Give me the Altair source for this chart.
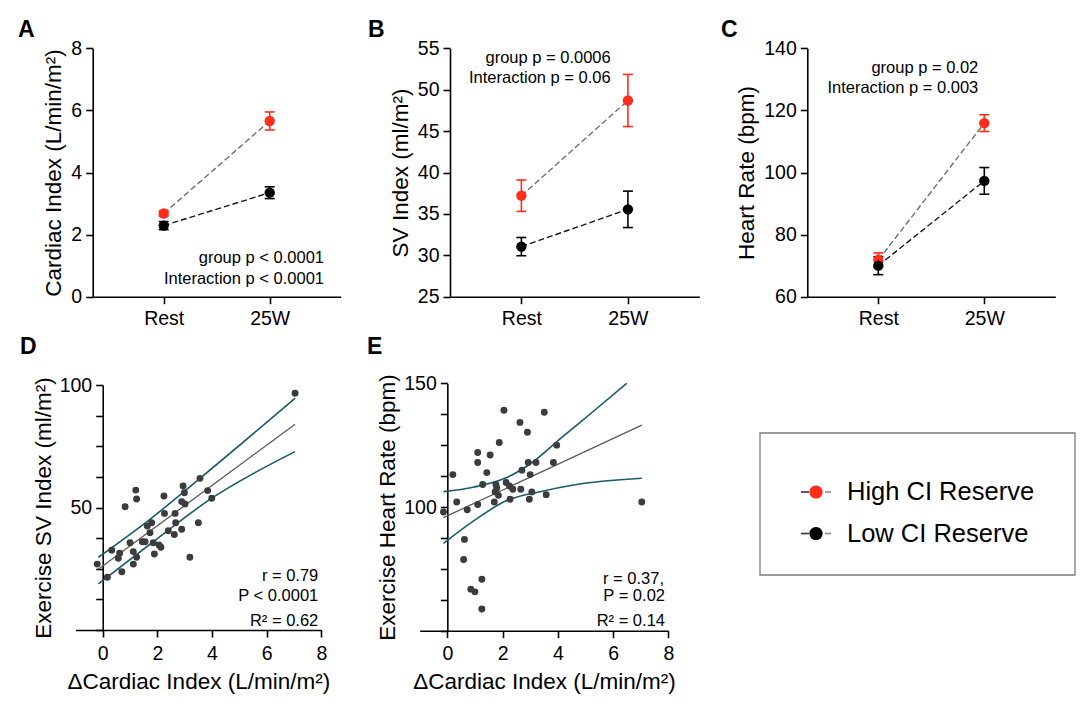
import altair as alt
import pandas as pd

FONT = "Liberation Sans"
W, H = 1080, 708

# ---------------- data ----------------
groups = ["High CI Reserve", "Low CI Reserve"]
point_colors = ["#ff2d1a", "#000000"]
line_colors = ["#707070", "#161616"]
conditions = ["Rest", "25W"]

# A: Cardiac index (mean, SEM)
ci_high_mean = [2.68, 5.66]
ci_high_sem = [0.08, 0.29]
ci_low_mean = [2.29, 3.35]
ci_low_sem = [0.13, 0.19]
# B: SV index
sv_high_mean = [37.2, 48.7]
sv_high_sem = [1.9, 3.15]
sv_low_mean = [31.05, 35.55]
sv_low_sem = [1.1, 2.2]
# C: Heart rate
hr_high_mean = [71.8, 115.9]
hr_high_sem = [2.3, 2.7]
hr_low_mean = [70.0, 97.3]
hr_low_sem = [2.9, 4.3]

# D: delta CI vs exercise SV index
d_delta_ci = [-0.20, 0.17, 0.33, 0.57, 0.62, 0.70, 0.82, 1.00, 1.12, 1.12, 1.21, 1.24, 1.24,
              1.45, 1.55, 1.63, 1.73, 1.79, 1.85, 1.89, 2.06, 2.13, 2.24, 2.26, 2.40, 2.62,
              2.65, 2.67, 2.89, 2.89, 2.94, 2.99, 3.01, 3.19, 3.50, 3.56, 3.84, 3.99, 7.04]
d_sv = [26.9, 21.5, 32.6, 29.3, 31.3, 23.8, 50.3, 35.6, 32.0, 26.9, 57.1, 53.5, 29.7,
        36.0, 36.0, 42.4, 39.7, 43.8, 35.6, 31.0, 34.7, 33.8, 54.7, 47.6, 40.5, 39.0,
        47.6, 43.8, 41.1, 52.4, 58.8, 56.0, 51.4, 29.7, 43.8, 61.9, 56.9, 53.8, 96.6]
d_fit_x = [-0.16, 7.04]
d_fit_y = [24.8, 84.0]
d_upper_x = [-0.16, 1.73, 3.56, 7.04]
d_upper_y = [29.7, 45.2, 61.9, 94.6]
d_lower_x = [-0.16, 1.73, 3.99, 7.04]
d_lower_y = [18.8, 35.0, 53.8, 72.8]

# E: delta CI vs exercise heart rate
e_delta_ci = [-0.14, 0.20, 0.34, 0.72, 1.10, 1.10, 1.10, 1.28, 1.43, 1.55, 1.70, 1.73, 1.76,
              1.79, 1.85, 1.88, 2.05, 2.13, 2.25, 2.27, 2.37, 2.63, 2.66, 2.70, 2.90, 2.93,
              2.97, 3.00, 3.06, 3.21, 3.51, 3.58, 3.84, 3.96, 7.04, 0.62, 0.59, 1.25, 0.85,
              1.00, 1.25]
e_hr = [98.0, 113.1, 102.0, 98.9, 101.0, 118.0, 122.0, 109.1, 113.9, 121.0, 102.0, 106.1, 109.1,
        107.7, 104.7, 126.1, 139.1, 109.9, 108.5, 103.1, 107.2, 134.2, 107.2, 114.9, 130.2, 118.0,
        103.1, 113.1, 106.1, 118.0, 138.3, 105.0, 118.0, 125.0, 102.0, 86.9, 78.8, 70.8, 66.8,
        65.7, 58.8]
e_fit_x = [-0.14, 7.04]
e_fit_y = [95.7, 133.1]
e_upper_x = [-0.14, 0.94, 2.15, 3.12, 4.08, 5.29, 6.50]
e_upper_y = [106.2, 108.0, 111.9, 118.4, 127.5, 138.7, 150.0]
e_lower_x = [-0.14, 0.94, 2.15, 3.36, 4.57, 7.04]
e_lower_y = [85.3, 94.3, 102.6, 106.2, 108.9, 111.6]

x_title_bottom = "ΔCardiac Index (L/min/m²)"


# ---------------- helpers ----------------
def group_panel(high_m, high_s, low_m, low_s, y_dom, y_vals, y_title, x_rng, y_rng, title_x):
    rows = []
    for g, ms, ss in ((groups[0], high_m, high_s), (groups[1], low_m, low_s)):
        for c, m, s in zip(conditions, ms, ss):
            rows.append(dict(group=g, cond=c, mean=m, lo=m - s, hi=m + s))
    df = pd.DataFrame(rows)
    xs = alt.Scale(type="point", domain=conditions, range=list(x_rng), padding=0.67)
    ys = alt.Scale(domain=y_dom, range=[y_rng[0], y_rng[1]], nice=False, zero=False)
    xa = alt.Axis(orient="bottom", offset=y_rng[0] - H, title=None, labelAngle=0,
                  labelPadding=6, labelFlush=False)
    ya = alt.Axis(orient="left", offset=-x_rng[0], values=y_vals, title=y_title,
                  titleX=title_x, titleBaseline="middle")
    X = alt.X("cond:N", sort=conditions, scale=xs, axis=xa)

    def Y(f):
        return alt.Y(f, type="quantitative", scale=ys, axis=ya)

    col = alt.Color("group:N", scale=alt.Scale(domain=groups, range=point_colors), legend=None)
    base = alt.Chart(df)
    lines = base.mark_line(strokeDash=[6, 3], strokeWidth=1.4).encode(
        x=X, y=Y("mean"),
        stroke=alt.Stroke("group:N", scale=alt.Scale(domain=groups, range=line_colors), legend=None))
    bars = base.mark_rule(strokeWidth=1.6).encode(x=X, y=Y("lo"), y2=alt.Y2("hi"), color=col)
    caps = base.transform_fold(["lo", "hi"], as_=["end", "val"]).mark_tick(
        thickness=1.6, size=10, orient="horizontal", opacity=1).encode(x=X, y=Y("val"), color=col)
    pts = base.mark_point(filled=True, size=108, opacity=1).encode(x=X, y=Y("mean"), color=col)
    return alt.layer(lines, bars, caps, pts)


def scatter_panel(xv, yv, fx, fy, ux, uy, lx, ly, y_dom, y_vals, y_lab, y_title, x_rng, y_rng, title_x):
    zero_px = x_rng[0] + (x_rng[1] - x_rng[0]) / 9.0
    xs = alt.Scale(domain=[-1, 8], range=list(x_rng), nice=False, zero=False)
    ys = alt.Scale(domain=y_dom, range=[y_rng[0], y_rng[1]], nice=False, zero=False)
    xa = alt.Axis(orient="bottom", offset=y_rng[0] - H, values=[0, 2, 4, 6, 8], title=x_title_bottom,
                  titleY=51, titleBaseline="middle", labelPadding=7, labelFlush=False)
    cond = " || ".join(f"datum.value == {v}" for v in y_lab)
    ya = alt.Axis(orient="left", offset=-zero_px, values=y_vals, labelExpr=f"({cond}) ? datum.label : ''",
                  title=y_title, titleX=title_x, titleBaseline="middle")
    X = alt.X("x:Q", scale=xs, axis=xa)
    Y = alt.Y("y:Q", scale=ys, axis=ya)
    pts_df = pd.DataFrame({"x": xv, "y": yv})
    fit_df = pd.DataFrame({"x": fx, "y": fy})
    band_df = pd.concat([
        pd.DataFrame({"x": ux, "y": uy, "band": "upper"}),
        pd.DataFrame({"x": lx, "y": ly, "band": "lower"}),
    ])
    bands = alt.Chart(band_df).mark_line(color="#1b5a6c", strokeWidth=1.6, interpolate="monotone").encode(
        x=X, y=Y, detail="band:N")
    fit = alt.Chart(fit_df).mark_line(color="#5a5a5a", strokeWidth=1.3).encode(x=X, y=Y)
    pts = alt.Chart(pts_df).mark_circle(size=48, color="#3c3c3c", opacity=1).encode(x=X, y=Y)
    return alt.layer(bands, fit, pts)


def note(text, x, y, size=16.5, align="right", weight="normal"):
    return alt.Chart(pd.DataFrame({"t": [text]})).mark_text(
        align=align, baseline="alphabetic", font=FONT, fontSize=size, fontWeight=weight, color="black"
    ).encode(text="t:N", x=alt.value(x), y=alt.value(y))


# ---------------- panels ----------------
pA = group_panel(ci_high_mean, ci_high_sem, ci_low_mean, ci_low_sem, [0, 8], [0, 2, 4, 6, 8],
                 "Cardiac Index (L/min/m²)", (92.7, 340.7), (296.7, 48.3), -39.4)
pB = group_panel(sv_high_mean, sv_high_sem, sv_low_mean, sv_low_sem, [25, 55], [25, 30, 35, 40, 45, 50, 55],
                 "SV Index (ml/m²)", (450.0, 699.3), (296.7, 48.3), -50)
pC = group_panel(hr_high_mean, hr_high_sem, hr_low_mean, hr_low_sem, [60, 140], [60, 80, 100, 120, 140],
                 "Heart Rate (bpm)", (807.3, 1055.3), (296.7, 48.3), -61.3)

d_ticks = [0, 12.5, 25, 37.5, 50, 62.5, 75, 87.5, 100]
e_ticks = [50, 62.5, 75, 87.5, 100, 112.5, 125, 137.5, 150]
pD = scatter_panel(d_delta_ci, d_sv, d_fit_x, d_fit_y, d_upper_x, d_upper_y, d_lower_x, d_lower_y,
                   [0, 100], d_ticks, [50, 100], "Exercise SV Index (ml/m²)",
                   (75.4, 321.3), (630.0, 385.0), -59.4)
pE = scatter_panel(e_delta_ci, e_hr, e_fit_x, e_fit_y, e_upper_x, e_upper_y, e_lower_x, e_lower_y,
                   [50, 150], e_ticks, [100, 150], "Exercise Heart Rate (bpm)",
                   (419.7, 668.3), (630.7, 383.3), -59.8)

# ---------------- legend ----------------
leg_df = pd.DataFrame({"group": groups})
leg_y = alt.Y("group:N", scale=alt.Scale(type="point", domain=groups, range=[492.0, 533.5], padding=0),
              axis=None)
box = alt.Chart(pd.DataFrame({"b": [0]})).mark_rect(fill="white", stroke="#7a7a7a", strokeWidth=1.3).encode(
    x=alt.value(760), x2=alt.value(1075), y=alt.value(433), y2=alt.value(575))
dash_l = alt.Chart(leg_df).mark_rule(color="#333333", strokeWidth=1.6).encode(
    x=alt.value(801), x2=alt.value(809), y=leg_y)
dash_r = alt.Chart(leg_df).mark_rule(color="#888888", strokeWidth=1.6).encode(
    x=alt.value(825), x2=alt.value(831), y=leg_y)
leg_pts = alt.Chart(leg_df).mark_point(filled=True, size=175, opacity=1).encode(
    x=alt.value(816), y=leg_y,
    color=alt.Color("group:N", scale=alt.Scale(domain=groups, range=point_colors), legend=None))
leg_txt = alt.Chart(leg_df).mark_text(align="left", baseline="middle", font=FONT, fontSize=25.5,
                                       color="black").encode(x=alt.value(847), y=leg_y, text="group:N")
legend = alt.layer(dash_l, dash_r, leg_pts, leg_txt)

notes = [
    note("A", 18, 37, 23, "left", "bold"),
    note("B", 368, 37, 23, "left", "bold"),
    note("C", 721, 37, 23, "left", "bold"),
    note("D", 20, 354, 23, "left", "bold"),
    note("E", 367, 354, 23, "left", "bold"),
    note("group p < 0.0001", 324, 263.3),
    note("Interaction p < 0.0001", 324, 284),
    note("group p = 0.0006", 610.7, 62.7),
    note("Interaction p = 0.06", 610.7, 82.7),
    note("group p = 0.02", 978.3, 73.3),
    note("Interaction p = 0.003", 978.3, 93.3),
    note("r = 0.79", 318.3, 580.7),
    note("P < 0.0001", 318.3, 600.7),
    note("R² = 0.62", 318.3, 625.7),
    note("r = 0.37,", 664, 584.3),
    note("P = 0.02", 665, 601),
    note("R² = 0.14", 665, 625.7),
]

chart = alt.layer(box, pA, pB, pC, pD, pE, legend, *notes).resolve_scale(
    x="independent", y="independent"
).resolve_axis(
    x="independent", y="independent"
).properties(
    width=W, height=H, padding=0, autosize=alt.AutoSizeParams(type="none"), background="white"
).configure_view(stroke=None).configure_axis(
    domainColor="#000000", domainWidth=1.6, tickColor="#000000", tickWidth=1.6, tickSize=7,
    labelFont=FONT, labelFontSize=19.5, labelColor="#000000", labelPadding=4,
    titleFont=FONT, titleFontSize=22.5, titleFontWeight="normal", titleColor="#000000", grid=False
)

chart.save("out.html", embed_options={"renderer": "svg", "actions": False})
